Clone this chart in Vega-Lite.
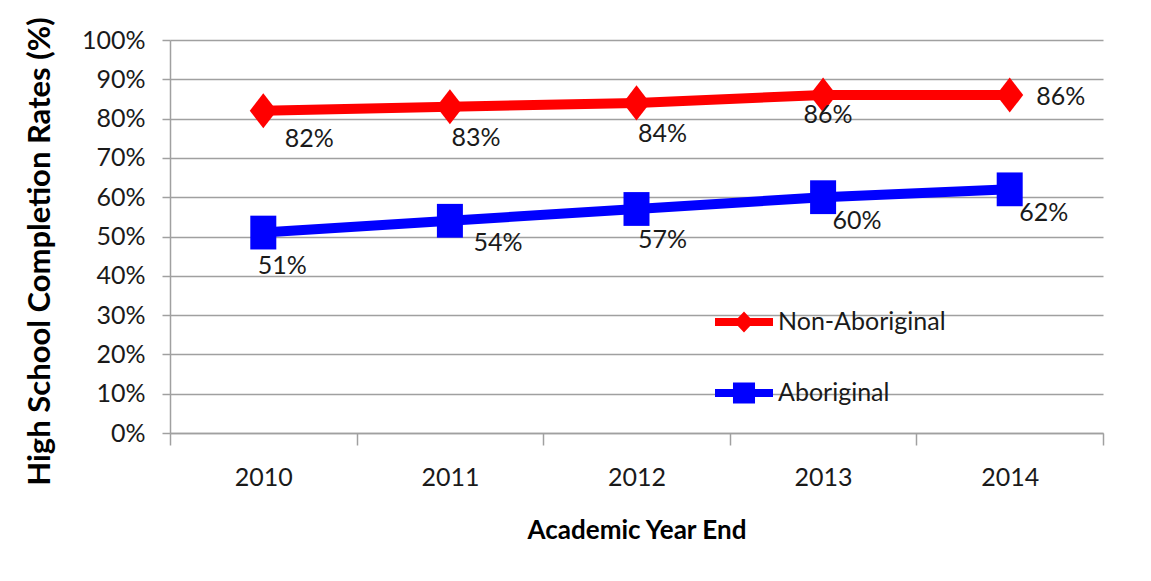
{
  "$schema": "https://vega.github.io/schema/vega-lite/v6.json",
  "width": 933,
  "height": 393,
  "autosize": {"type": "none"},
  "padding": {"left": 170, "top": 40, "right": 48, "bottom": 148},
  "background": "white",
  "config": {
    "font": "Lato",
    "view": {"stroke": null},
    "axis": {
      "labelFont": "Lato",
      "labelFontSize": 25,
      "labelColor": "#1a1a1a",
      "titleFont": "Lato",
      "titleFontWeight": "bold",
      "titleColor": "#000000",
      "domainColor": "#a0a0a0",
      "domainWidth": 1.5,
      "tickColor": "#a0a0a0",
      "tickWidth": 1.5,
      "gridColor": "#a0a0a0",
      "gridWidth": 1.5
    },
    "legend": {
      "labelFont": "Lato",
      "labelFontSize": 25,
      "labelColor": "#1a1a1a",
      "labelLimit": 400
    }
  },
  "data": {
    "values": [
      {"year": "2010", "series": "Non-Aboriginal", "rate": 0.82},
      {"year": "2011", "series": "Non-Aboriginal", "rate": 0.83},
      {"year": "2012", "series": "Non-Aboriginal", "rate": 0.84},
      {"year": "2013", "series": "Non-Aboriginal", "rate": 0.86},
      {"year": "2014", "series": "Non-Aboriginal", "rate": 0.86},
      {"year": "2010", "series": "Aboriginal", "rate": 0.51},
      {"year": "2011", "series": "Aboriginal", "rate": 0.54},
      {"year": "2012", "series": "Aboriginal", "rate": 0.57},
      {"year": "2013", "series": "Aboriginal", "rate": 0.60},
      {"year": "2014", "series": "Aboriginal", "rate": 0.62}
    ]
  },
  "encoding": {
    "x": {
      "field": "year",
      "type": "ordinal",
      "scale": {"paddingInner": 0, "paddingOuter": 0},
      "axis": {
        "title": "Academic Year End",
        "titleFontSize": 26,
        "titleY": 97,
        "titleBaseline": "middle",
        "labelAngle": 0,
        "labelBaseline": "middle",
        "labelPadding": 32,
        "tickSize": 12,
        "tickBand": "extent",
        "grid": false
      }
    },
    "y": {
      "field": "rate",
      "type": "quantitative",
      "scale": {"domain": [0, 1], "nice": false, "zero": true},
      "axis": {
        "title": "High School Completion Rates (%)",
        "titleFontSize": 31,
        "titleX": -130,
        "titleY": 211,
        "titleBaseline": "middle",
        "titleAlign": "center",
        "values": [0, 0.1, 0.2, 0.3, 0.4, 0.5, 0.6, 0.7, 0.8, 0.9, 1],
        "format": ".0%",
        "tickSize": 8,
        "labelPadding": 17,
        "grid": true
      }
    },
    "color": {
      "field": "series",
      "type": "nominal",
      "scale": {"domain": ["Non-Aboriginal", "Aboriginal"], "range": ["#ff0000", "#0000ff"]},
      "legend": {
        "title": null,
        "orient": "none",
        "legendX": 545,
        "legendY": 253,
        "padding": 0,
        "symbolSize": 3364,
        "labelOffset": 5,
        "rowPadding": 29,
        "labelBaseline": "middle",
        "encode": {
          "symbols": {
            "update": {
              "shape": {"signal": "datum.value === 'Aboriginal' ? 'M-1,-0.14H-0.38V-0.36H0.38V-0.14H1V0.14H0.38V0.36H-0.38V0.14H-1Z' : 'M-1,-0.14H-0.21L0,-0.36L0.21,-0.14H1V0.14H0.21L0,0.36L-0.21,0.14H-1Z'"},
              "fill": {"signal": "datum.value === 'Aboriginal' ? '#0000ff' : '#ff0000'"},
              "stroke": {"value": "transparent"},
              "strokeWidth": {"value": 0},
              "opacity": {"value": 1},
              "fillOpacity": {"value": 1}
            }
          }
        }
      }
    }
  },
  "layer": [
    {
      "mark": {"type": "line", "strokeWidth": 10, "strokeJoin": "round"}
    },
    {
      "transform": [{"filter": "datum.series === 'Non-Aboriginal'"}],
      "mark": {"type": "point", "filled": true, "opacity": 1, "size": 676, "shape": "M0,-1.35L1.04,0L0,1.35L-1.04,0Z"}
    },
    {
      "transform": [{"filter": "datum.series === 'Aboriginal'"}],
      "mark": {"type": "point", "filled": true, "opacity": 1, "size": 676, "shape": "M-1,-1.3H1V1.3H-1Z"}
    },
    {
      "transform": [{"filter": "datum.series === 'Non-Aboriginal' && datum.year === '2010'"}],
      "mark": {"type": "text", "fontSize": 25, "color": "#1a1a1a", "dx": 46, "dy": 28},
      "encoding": {"text": {"field": "rate", "type": "quantitative", "format": ".0%"}, "color": {"value": "#1a1a1a"}}
    },
    {
      "transform": [{"filter": "(datum.series === 'Non-Aboriginal' && (datum.year === '2011' || datum.year === '2012')) || (datum.series === 'Aboriginal' && datum.year === '2012')"}],
      "mark": {"type": "text", "fontSize": 25, "color": "#1a1a1a", "dx": 26, "dy": 31},
      "encoding": {"text": {"field": "rate", "type": "quantitative", "format": ".0%"}, "color": {"value": "#1a1a1a"}}
    },
    {
      "transform": [{"filter": "datum.series === 'Non-Aboriginal' && datum.year === '2013'"}],
      "mark": {"type": "text", "fontSize": 25, "color": "#1a1a1a", "dx": 5, "dy": 20},
      "encoding": {"text": {"field": "rate", "type": "quantitative", "format": ".0%"}, "color": {"value": "#1a1a1a"}}
    },
    {
      "transform": [{"filter": "datum.series === 'Non-Aboriginal' && datum.year === '2014'"}],
      "mark": {"type": "text", "fontSize": 25, "color": "#1a1a1a", "dx": 51, "dy": 2},
      "encoding": {"text": {"field": "rate", "type": "quantitative", "format": ".0%"}, "color": {"value": "#1a1a1a"}}
    },
    {
      "transform": [{"filter": "datum.series === 'Aboriginal' && datum.year === '2010'"}],
      "mark": {"type": "text", "fontSize": 25, "color": "#1a1a1a", "dx": 19, "dy": 33},
      "encoding": {"text": {"field": "rate", "type": "quantitative", "format": ".0%"}, "color": {"value": "#1a1a1a"}}
    },
    {
      "transform": [{"filter": "datum.series === 'Aboriginal' && datum.year === '2011'"}],
      "mark": {"type": "text", "fontSize": 25, "color": "#1a1a1a", "dx": 48, "dy": 22},
      "encoding": {"text": {"field": "rate", "type": "quantitative", "format": ".0%"}, "color": {"value": "#1a1a1a"}}
    },
    {
      "transform": [{"filter": "datum.series === 'Aboriginal' && (datum.year === '2013' || datum.year === '2014')"}],
      "mark": {"type": "text", "fontSize": 25, "color": "#1a1a1a", "dx": 34, "dy": 24},
      "encoding": {"text": {"field": "rate", "type": "quantitative", "format": ".0%"}, "color": {"value": "#1a1a1a"}}
    }
  ]
}
